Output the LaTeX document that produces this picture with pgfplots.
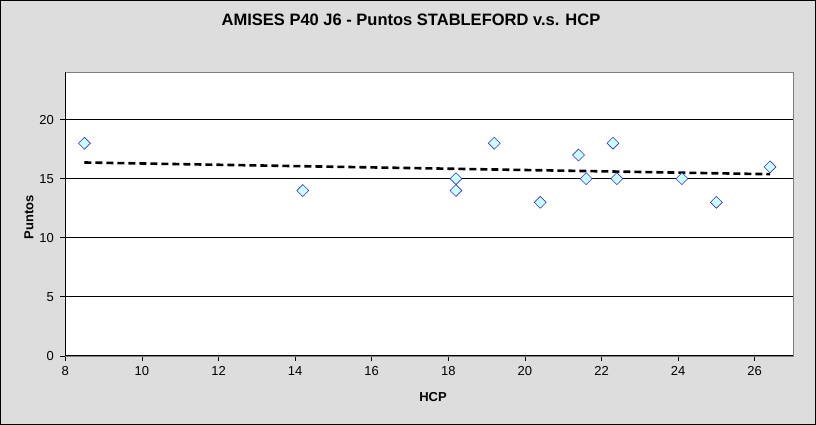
\documentclass[border=0pt]{standalone}
\usepackage{pgfplots}
\pgfplotsset{compat=1.18}
\usepackage{fontspec}
\setmainfont{Liberation Sans}
\definecolor{bg}{HTML}{DDDDDD}
\definecolor{mkfill}{HTML}{CCFFFF}
\definecolor{mkdraw}{HTML}{3333CC}
\begin{document}
\begin{tikzpicture}[x=1pt,y=1pt]
\fill[bg] (0,0) rectangle (816,425);
\draw[black,line width=1pt] (0.5,0.5) rectangle (815.5,424.5);
\begin{axis}[
  at={(65.3pt,69pt)}, anchor=south west,
  scale only axis, width=727.7pt, height=283.7pt,
  xmin=8, xmax=27, ymin=0, ymax=24,
  xtick={8,10,...,26}, ytick={0,5,...,20},
  axis background/.style={fill=white},
  axis line style={draw=gray, line width=0.8pt},
  tick align=outside, xtick pos=bottom, ytick pos=left,
  major tick length=5pt,
  tick style={black, line width=0.8pt},
  ymajorgrids, grid style={black, line width=0.8pt},
  tick label style={font=\fontsize{13}{15}\selectfont},
  /pgf/number format/assume math mode=true,
  xticklabel style={yshift=-2pt},
  yticklabel style={xshift=-3pt},
  clip=false,
]
\draw[black, line width=1pt] (rel axis cs:0,1) -- (rel axis cs:0,0) -- (rel axis cs:1,0);
\addplot[black, line width=2.6pt, dash pattern=on 7pt off 4pt] coordinates {(8.5,16.37) (26.4,15.38)};
\addplot[only marks, mark=square*, mark size=4.2pt,
  mark options={rotate=45, fill=mkfill, draw=mkdraw, line width=0.6pt}] coordinates {
  (8.5,18) (14.2,14) (18.2,15) (18.2,14) (19.2,18) (20.4,13) (21.4,17)
  (21.6,15) (22.3,18) (22.4,15) (24.1,15) (25.0,13) (26.4,16)
};
\end{axis}
\node[font=\fontsize{16.5}{18}\selectfont\bfseries] at (411,405) {AMISES P40 J6 - Puntos STABLEFORD v.s. HCP};
\node[font=\fontsize{13}{15}\selectfont\bfseries, rotate=90] at (29,208) {Puntos};
\node[font=\fontsize{13}{15}\selectfont\bfseries] at (433,28) {HCP};
\end{tikzpicture}
\end{document}
